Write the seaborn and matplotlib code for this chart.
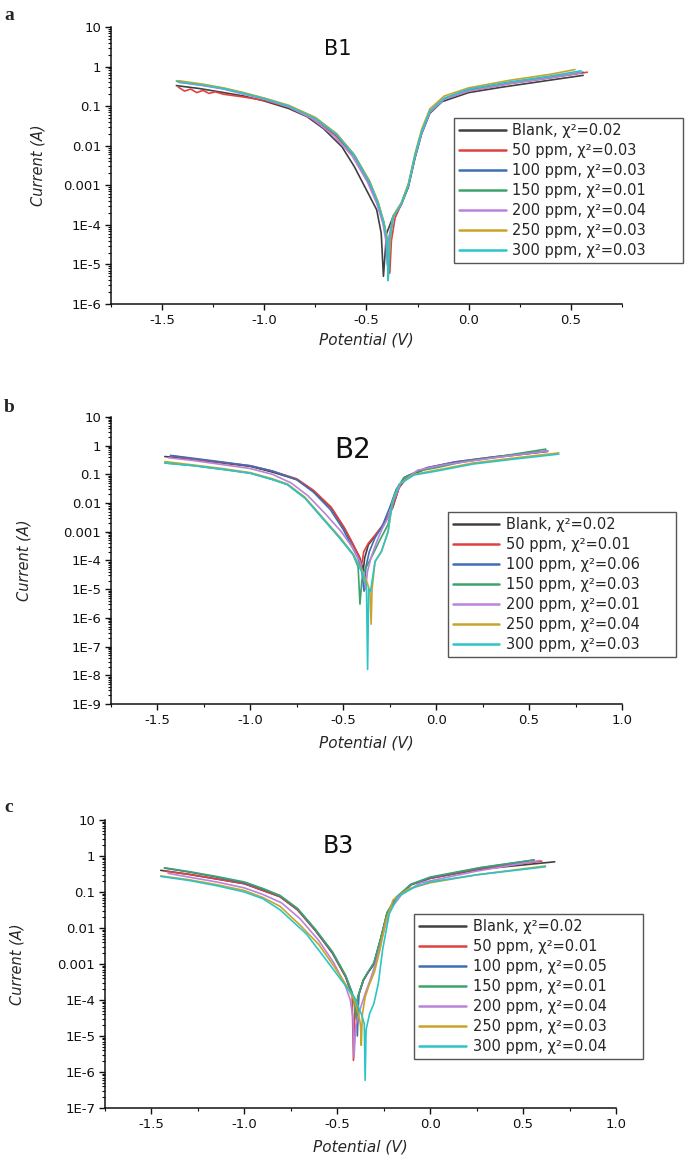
import numpy as np
import pandas as pd
import matplotlib
matplotlib.use("Agg")
import matplotlib.pyplot as plt
import seaborn as sns
from matplotlib.ticker import FixedLocator, LogLocator, MultipleLocator, NullFormatter

# ---------------- data ----------------
SERIES = ["Blank", "50 ppm", "100 ppm", "150 ppm", "200 ppm", "250 ppm", "300 ppm"]
COLORS = ["#404040", "#e0413f", "#3e6fb5", "#3ea36a", "#b983db", "#c9a428", "#2cc4c8"]

# Panel a (B1)
A_CHI2 = ["0.02", "0.03", "0.03", "0.01", "0.04", "0.03", "0.03"]
A_BLANK_V = [-1.43, -1.32, -1.22, -1.10, -1.00, -0.88, -0.79, -0.71, -0.62, -0.56, -0.50, -0.45, -0.428, -0.417, -0.402, -0.37, -0.33, -0.295, -0.262, -0.23, -0.19, -0.13, 0.00, 0.16, 0.38, 0.56]
A_BLANK_I = [0.33, 0.28, 0.23, 0.18, 0.135, 0.087, 0.054, 0.027, 0.0094, 0.0030, 7.6e-4, 2.4e-4, 6.2e-5, 5.0e-6, 6.0e-5, 1.6e-4, 3.2e-4, 9.0e-4, 5.0e-3, 0.020, 0.066, 0.13, 0.22, 0.30, 0.44, 0.60]
A_50_V = [-1.42, -1.39, -1.36, -1.33, -1.30, -1.27, -1.24, -1.20, -1.10, -1.00, -0.88, -0.76, -0.65, -0.56, -0.49, -0.445, -0.415, -0.398, -0.386, -0.378, -0.36, -0.33, -0.295, -0.262, -0.23, -0.19, -0.12, 0.00, 0.20, 0.40, 0.58]
A_50_I = [0.30, 0.24, 0.27, 0.22, 0.25, 0.21, 0.23, 0.20, 0.17, 0.14, 0.095, 0.046, 0.018, 0.0055, 0.0012, 3.4e-4, 1.0e-4, 3.0e-5, 6.0e-6, 4.0e-5, 1.5e-4, 3.3e-4, 1.0e-3, 5.5e-3, 0.022, 0.070, 0.15, 0.24, 0.37, 0.52, 0.72]
A_100_V = [-1.42, -1.30, -1.20, -1.10, -1.00, -0.88, -0.75, -0.645, -0.56, -0.485, -0.443, -0.415, -0.400, -0.392, -0.385, -0.37, -0.33, -0.295, -0.262, -0.23, -0.19, -0.12, 0.00, 0.20, 0.40, 0.56]
A_100_I = [0.42, 0.34, 0.28, 0.21, 0.155, 0.10, 0.049, 0.019, 0.0057, 0.0012, 3.5e-4, 1.1e-4, 4.2e-5, 8.0e-6, 4.5e-5, 1.6e-4, 3.4e-4, 1.0e-3, 5.5e-3, 0.022, 0.072, 0.15, 0.25, 0.38, 0.53, 0.72]
A_150_V = [-1.43, -1.30, -1.20, -1.10, -1.00, -0.88, -0.75, -0.645, -0.56, -0.485, -0.443, -0.415, -0.400, -0.394, -0.386, -0.37, -0.33, -0.295, -0.262, -0.23, -0.19, -0.12, 0.00, 0.20, 0.40, 0.55]
A_150_I = [0.43, 0.34, 0.28, 0.21, 0.155, 0.10, 0.050, 0.019, 0.0058, 0.0012, 3.6e-4, 1.1e-4, 4.0e-5, 4.0e-6, 4.5e-5, 1.6e-4, 3.4e-4, 1.0e-3, 5.6e-3, 0.022, 0.072, 0.15, 0.25, 0.38, 0.53, 0.70]
A_200_V = [-1.42, -1.30, -1.20, -1.10, -1.00, -0.88, -0.77, -0.66, -0.57, -0.495, -0.45, -0.42, -0.405, -0.398, -0.39, -0.37, -0.33, -0.295, -0.262, -0.23, -0.19, -0.12, 0.00, 0.20, 0.40, 0.55]
A_200_I = [0.40, 0.33, 0.27, 0.20, 0.15, 0.095, 0.050, 0.018, 0.0055, 0.0012, 3.5e-4, 1.1e-4, 4.0e-5, 1.0e-5, 5.0e-5, 1.6e-4, 3.3e-4, 1.0e-3, 5.4e-3, 0.021, 0.070, 0.15, 0.24, 0.37, 0.52, 0.70]
A_250_V = [-1.42, -1.30, -1.20, -1.10, -1.00, -0.88, -0.75, -0.645, -0.56, -0.485, -0.443, -0.415, -0.400, -0.390, -0.382, -0.37, -0.33, -0.295, -0.262, -0.23, -0.19, -0.12, 0.00, 0.20, 0.40, 0.52]
A_250_I = [0.44, 0.36, 0.29, 0.22, 0.16, 0.105, 0.052, 0.020, 0.0060, 0.0013, 3.8e-4, 1.2e-4, 5.0e-5, 1.2e-5, 5.0e-5, 1.7e-4, 3.6e-4, 1.1e-3, 6.5e-3, 0.026, 0.085, 0.18, 0.29, 0.45, 0.64, 0.84]
A_300_V = [-1.42, -1.30, -1.20, -1.10, -1.00, -0.88, -0.75, -0.645, -0.56, -0.485, -0.443, -0.415, -0.400, -0.394, -0.386, -0.37, -0.33, -0.295, -0.262, -0.23, -0.19, -0.12, 0.00, 0.20, 0.40, 0.55]
A_300_I = [0.41, 0.34, 0.28, 0.21, 0.155, 0.10, 0.049, 0.019, 0.0057, 0.0012, 3.5e-4, 1.1e-4, 4.2e-5, 3.9e-6, 4.5e-5, 1.6e-4, 3.4e-4, 1.0e-3, 5.8e-3, 0.023, 0.075, 0.16, 0.27, 0.41, 0.58, 0.78]

# Panel b (B2)
B_CHI2 = ["0.02", "0.01", "0.06", "0.03", "0.01", "0.04", "0.03"]
B_BLANK_V = [-1.46, -1.30, -1.15, -1.00, -0.88, -0.75, -0.66, -0.565, -0.494, -0.447, -0.412, -0.400, -0.393, -0.385, -0.365, -0.33, -0.282, -0.235, -0.20, -0.153, -0.05, 0.10, 0.30, 0.60]
B_BLANK_I = [0.42, 0.33, 0.25, 0.19, 0.12, 0.066, 0.026, 0.0068, 0.0013, 3.5e-4, 1.3e-4, 7.0e-5, 4.0e-5, 1.2e-4, 3.5e-4, 7.0e-4, 1.8e-3, 6.7e-3, 0.034, 0.085, 0.16, 0.25, 0.38, 0.63]
B_50_V = [-1.42, -1.30, -1.15, -1.00, -0.88, -0.75, -0.66, -0.565, -0.494, -0.447, -0.415, -0.405, -0.398, -0.39, -0.365, -0.33, -0.282, -0.235, -0.20, -0.153, -0.05, 0.10, 0.30, 0.58]
B_50_I = [0.44, 0.34, 0.26, 0.20, 0.13, 0.07, 0.028, 0.0072, 0.0014, 3.7e-4, 1.4e-4, 7.0e-5, 9.0e-5, 2.0e-4, 4.0e-4, 7.5e-4, 1.9e-3, 7.0e-3, 0.035, 0.09, 0.17, 0.27, 0.40, 0.62]
B_100_V = [-1.43, -1.30, -1.15, -1.00, -0.88, -0.75, -0.66, -0.57, -0.50, -0.455, -0.42, -0.40, -0.388, -0.378, -0.36, -0.33, -0.29, -0.25, -0.215, -0.17, -0.05, 0.10, 0.30, 0.60]
B_100_I = [0.46, 0.36, 0.27, 0.20, 0.13, 0.065, 0.024, 0.006, 0.0012, 3.2e-4, 1.2e-4, 4.0e-5, 8.5e-6, 6.0e-5, 2.0e-4, 6.0e-4, 1.6e-3, 7.0e-3, 0.03, 0.08, 0.17, 0.27, 0.40, 0.66]
B_150_V = [-1.46, -1.30, -1.15, -1.00, -0.88, -0.80, -0.706, -0.612, -0.518, -0.447, -0.42, -0.41, -0.40, -0.388, -0.341, -0.306, -0.259, -0.224, -0.176, -0.10, 0.0, 0.15, 0.35, 0.59]
B_150_I = [0.25, 0.20, 0.15, 0.11, 0.066, 0.044, 0.015, 0.003, 6.0e-4, 1.6e-4, 6.0e-5, 3.0e-6, 2.0e-5, 4.2e-5, 1.6e-4, 4.7e-4, 1.8e-3, 0.02, 0.074, 0.13, 0.17, 0.28, 0.43, 0.76]
B_200_V = [-1.44, -1.30, -1.15, -1.00, -0.88, -0.78, -0.69, -0.60, -0.51, -0.45, -0.41, -0.39, -0.38, -0.37, -0.35, -0.32, -0.29, -0.26, -0.23, -0.19, -0.10, 0.05, 0.30, 0.60]
B_200_I = [0.38, 0.30, 0.22, 0.16, 0.10, 0.05, 0.018, 0.0045, 0.001, 2.8e-4, 9.0e-5, 3.0e-5, 1.0e-5, 4.0e-5, 1.3e-4, 4.5e-4, 1.3e-3, 3.0e-3, 0.012, 0.05, 0.14, 0.22, 0.37, 0.65]
B_250_V = [-1.46, -1.30, -1.15, -1.00, -0.88, -0.80, -0.706, -0.612, -0.518, -0.447, -0.40, -0.37, -0.356, -0.350, -0.345, -0.329, -0.294, -0.259, -0.235, -0.20, -0.12, 0.0, 0.20, 0.40, 0.66]
B_250_I = [0.28, 0.21, 0.16, 0.115, 0.07, 0.046, 0.016, 0.0032, 6.5e-4, 1.7e-4, 4.5e-5, 1.6e-5, 8.0e-6, 6.0e-7, 1.0e-5, 9.0e-5, 2.1e-4, 1.0e-3, 0.011, 0.045, 0.10, 0.14, 0.25, 0.36, 0.56]
B_300_V = [-1.46, -1.30, -1.15, -1.00, -0.88, -0.80, -0.706, -0.612, -0.518, -0.447, -0.40, -0.375, -0.369, -0.363, -0.353, -0.329, -0.294, -0.259, -0.235, -0.20, -0.12, 0.0, 0.20, 0.40, 0.66]
B_300_I = [0.25, 0.20, 0.15, 0.11, 0.066, 0.044, 0.015, 0.003, 6.0e-4, 1.6e-4, 4.0e-5, 1.3e-5, 1.6e-8, 1.0e-5, 8.5e-6, 9.3e-5, 2.1e-4, 1.0e-3, 0.011, 0.044, 0.095, 0.13, 0.23, 0.33, 0.51]

# Panel c (B3)
C_CHI2 = ["0.02", "0.01", "0.05", "0.01", "0.04", "0.03", "0.04"]
C_BLANK_V = [-1.45, -1.30, -1.15, -1.00, -0.90, -0.808, -0.714, -0.62, -0.526, -0.455, -0.42, -0.40, -0.392, -0.385, -0.36, -0.338, -0.303, -0.268, -0.232, -0.185, -0.103, 0.0, 0.272, 0.67]
C_BLANK_I = [0.40, 0.31, 0.23, 0.17, 0.11, 0.074, 0.032, 0.0088, 0.002, 4.4e-4, 1.5e-4, 7.0e-5, 2.0e-5, 1.4e-4, 3.5e-4, 5.5e-4, 1.0e-3, 4.6e-3, 0.025, 0.066, 0.16, 0.24, 0.43, 0.69]
C_50_V = [-1.43, -1.30, -1.15, -1.00, -0.90, -0.808, -0.714, -0.62, -0.526, -0.455, -0.42, -0.413, -0.405, -0.385, -0.36, -0.338, -0.303, -0.268, -0.232, -0.185, -0.103, 0.0, 0.272, 0.60]
C_50_I = [0.38, 0.31, 0.23, 0.17, 0.11, 0.074, 0.032, 0.0088, 0.002, 4.4e-4, 1.3e-4, 2.1e-6, 6.0e-5, 1.4e-4, 3.5e-4, 5.5e-4, 1.0e-3, 4.6e-3, 0.025, 0.066, 0.16, 0.24, 0.45, 0.72]
C_100_V = [-1.43, -1.30, -1.15, -1.00, -0.90, -0.808, -0.714, -0.62, -0.526, -0.455, -0.42, -0.397, -0.392, -0.385, -0.36, -0.338, -0.303, -0.268, -0.232, -0.185, -0.103, 0.0, 0.272, 0.56]
C_100_I = [0.46, 0.36, 0.26, 0.18, 0.12, 0.078, 0.034, 0.0092, 0.0021, 4.6e-4, 1.5e-4, 5.2e-5, 1.0e-5, 1.4e-4, 3.5e-4, 5.5e-4, 1.0e-3, 4.6e-3, 0.026, 0.068, 0.16, 0.25, 0.47, 0.77]
C_150_V = [-1.43, -1.30, -1.15, -1.00, -0.90, -0.808, -0.714, -0.62, -0.526, -0.455, -0.42, -0.405, -0.398, -0.39, -0.36, -0.338, -0.303, -0.268, -0.232, -0.185, -0.103, 0.0, 0.272, 0.56]
C_150_I = [0.47, 0.37, 0.27, 0.19, 0.125, 0.08, 0.035, 0.0095, 0.0022, 4.8e-4, 1.6e-4, 6.0e-5, 3.0e-5, 1.2e-4, 3.6e-4, 5.6e-4, 1.1e-3, 4.8e-3, 0.027, 0.07, 0.165, 0.26, 0.48, 0.78]
C_200_V = [-1.41, -1.30, -1.15, -1.00, -0.90, -0.80, -0.70, -0.60, -0.52, -0.46, -0.43, -0.415, -0.41, -0.40, -0.38, -0.35, -0.32, -0.29, -0.26, -0.22, -0.15, -0.05, 0.25, 0.59]
C_200_I = [0.33, 0.26, 0.19, 0.13, 0.085, 0.05, 0.018, 0.0045, 0.0011, 2.8e-4, 1.0e-4, 3.0e-5, 2.6e-6, 2.0e-5, 5.0e-5, 1.5e-4, 4.0e-4, 1.2e-3, 5.0e-3, 0.03, 0.09, 0.18, 0.38, 0.75]
C_250_V = [-1.45, -1.30, -1.15, -1.00, -0.90, -0.808, -0.70, -0.60, -0.52, -0.45, -0.41, -0.385, -0.375, -0.371, -0.365, -0.35, -0.33, -0.30, -0.27, -0.24, -0.20, -0.12, 0.0, 0.25, 0.62]
C_250_I = [0.28, 0.22, 0.16, 0.11, 0.07, 0.04, 0.012, 0.0035, 9.0e-4, 2.5e-4, 1.0e-4, 4.0e-5, 2.0e-5, 5.5e-6, 4.0e-5, 1.2e-4, 2.5e-4, 6.0e-4, 2.5e-3, 0.015, 0.06, 0.12, 0.18, 0.30, 0.53]
C_300_V = [-1.45, -1.30, -1.15, -1.00, -0.90, -0.808, -0.667, -0.573, -0.479, -0.408, -0.37, -0.355, -0.35, -0.345, -0.326, -0.303, -0.279, -0.256, -0.22, -0.174, -0.08, 0.0, 0.25, 0.62]
C_300_I = [0.27, 0.21, 0.15, 0.10, 0.065, 0.032, 0.0069, 0.0016, 3.6e-4, 1.2e-4, 4.0e-5, 2.2e-5, 5.9e-7, 1.5e-5, 4.2e-5, 8.0e-5, 2.9e-4, 2.5e-3, 0.025, 0.074, 0.14, 0.19, 0.30, 0.50]

A_YTICKS = ["1E-6", "1E-5", "1E-4", "0.001", "0.01", "0.1", "1", "10"]
B_YTICKS = ["1E-9", "1E-8", "1E-7", "1E-6", "1E-5", "1E-4", "0.001", "0.01", "0.1", "1", "10"]
C_YTICKS = ["1E-7", "1E-6", "1E-5", "1E-4", "0.001", "0.01", "0.1", "1", "10"]

# ---------------- style ----------------
sns.set_theme(style="ticks")
plt.rcParams["font.family"] = ["DejaVu Sans"]
plt.rcParams["axes.unicode_minus"] = False

fig = plt.figure(figsize=(6.85, 11.59), dpi=100)

panels = [
    dict(letter="a", title="B1", title_xy=(0.444, 0.92), title_fs=15,
         rect=[0.162, 0.7377, 0.746, 0.239], ylow=-6, ylabels=A_YTICKS, xlim=(-1.75, 0.75),
         chi=A_CHI2, leg=(0.671, 0.671, 0.448), letter_y=0.994, ylab_x=-0.128, xlab_pad=4,
         data=[(A_BLANK_V, A_BLANK_I), (A_50_V, A_50_I), (A_100_V, A_100_I), (A_150_V, A_150_I),
               (A_200_V, A_200_I), (A_250_V, A_250_I), (A_300_V, A_300_I)]),
    dict(letter="b", title="B2", title_xy=(0.472, 0.885), title_fs=20,
         rect=[0.162, 0.3926, 0.746, 0.2476], ylow=-9, ylabels=B_YTICKS, xlim=(-1.75, 1.0),
         chi=B_CHI2, leg=(0.659, 0.669, 0.446), letter_y=0.656, ylab_x=-0.156, xlab_pad=6,
         data=[(B_BLANK_V, B_BLANK_I), (B_50_V, B_50_I), (B_100_V, B_100_I), (B_150_V, B_150_I),
               (B_200_V, B_200_I), (B_250_V, B_250_I), (B_300_V, B_300_I)]),
    dict(letter="c", title="B3", title_xy=(0.456, 0.91), title_fs=17,
         rect=[0.1533, 0.044, 0.746, 0.2485], ylow=-7, ylabels=C_YTICKS, xlim=(-1.75, 1.0),
         chi=C_CHI2, leg=(0.605, 0.674, 0.448), letter_y=0.311, ylab_x=-0.158, xlab_pad=6,
         data=[(C_BLANK_V, C_BLANK_I), (C_50_V, C_50_I), (C_100_V, C_100_I), (C_150_V, C_150_I),
               (C_200_V, C_200_I), (C_250_V, C_250_I), (C_300_V, C_300_I)]),
]

for p in panels:
    ax = fig.add_axes(p["rect"])
    frames = []
    labels = [f"{s}, χ²={c}" for s, c in zip(SERIES, p["chi"])]
    for lab, (v, i) in zip(labels, p["data"]):
        frames.append(pd.DataFrame({"V": v, "I": i, "series": lab}))
    df = pd.concat(frames, ignore_index=True)
    sns.lineplot(data=df, x="V", y="I", hue="series", hue_order=labels,
                 palette=dict(zip(labels, COLORS)), sort=False, estimator=None,
                 linewidth=1.2, ax=ax)
    ax.set_yscale("log")
    ax.set_ylim(10.0 ** p["ylow"], 10.0)
    ax.set_xlim(*p["xlim"])
    ax.yaxis.set_major_locator(FixedLocator(10.0 ** np.arange(p["ylow"], 2)))
    ax.set_yticklabels(p["ylabels"])
    ax.yaxis.set_minor_locator(LogLocator(base=10, subs=np.arange(2, 10), numticks=100))
    ax.yaxis.set_minor_formatter(NullFormatter())
    ax.xaxis.set_major_locator(MultipleLocator(0.5))
    ax.xaxis.set_minor_locator(MultipleLocator(0.25))
    sns.despine(ax=ax)
    for s in ("left", "bottom"):
        ax.spines[s].set_linewidth(1.1)
        ax.spines[s].set_color("#111111")
    ax.tick_params(axis="both", which="major", direction="out", length=4, width=1.0,
                   labelsize=9.5, colors="#111111", pad=3)
    ax.tick_params(axis="both", which="minor", direction="out", length=2.2, width=0.8,
                   colors="#111111")
    ax.set_xlabel("Potential (V)", fontsize=11, style="italic", labelpad=p["xlab_pad"])
    ax.set_ylabel("Current (A)", fontsize=10.5, style="italic")
    ax.yaxis.set_label_coords(p["ylab_x"], 0.5)
    ax.text(p["title_xy"][0], p["title_xy"][1], p["title"], transform=ax.transAxes,
            ha="center", va="center", fontsize=p["title_fs"], color="#111111")
    lx, ly, lw = p["leg"]
    leg = ax.legend(loc="upper left", bbox_to_anchor=(lx, ly - 0.6, lw, 0.6), mode="expand",
                    fontsize=10.5, frameon=True, fancybox=False, edgecolor="#555555",
                    framealpha=1, handlelength=3.2, handletextpad=0.45, labelspacing=0.34,
                    borderpad=0.35, borderaxespad=0.0, title=None)
    leg.get_frame().set_linewidth(1.0)
    for h in leg.get_lines():
        h.set_linewidth(1.8)
    fig.text(0.006, p["letter_y"], p["letter"], family=["Liberation Serif"], weight="bold",
             fontsize=14, ha="left", va="top")

fig.savefig("out.png", dpi=100)
